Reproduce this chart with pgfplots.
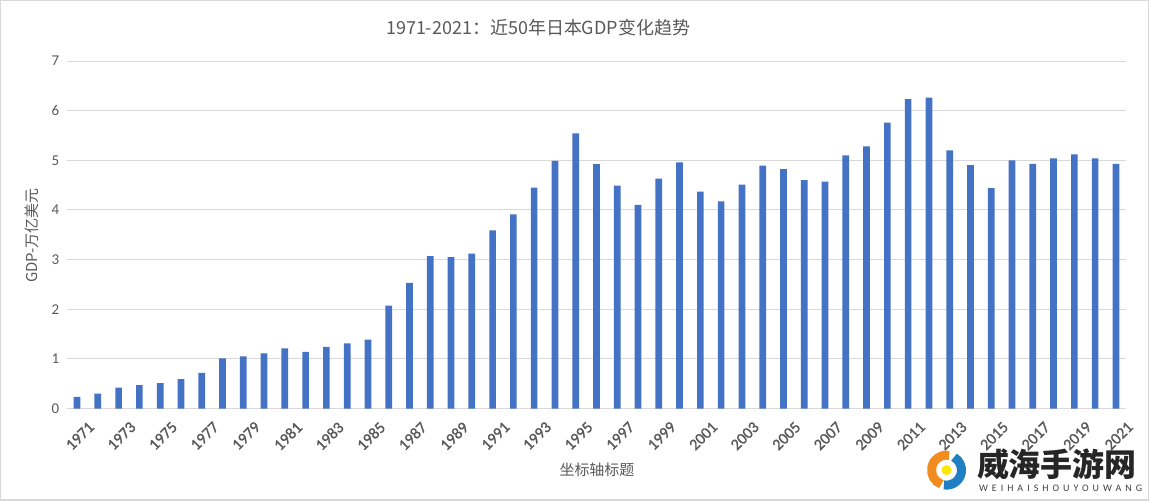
\documentclass[border=0pt]{standalone}
\usepackage{pgfplots}
\pgfplotsset{compat=1.18}
\usepackage{fontspec}
\setmainfont{Noto Sans CJK SC}
\newfontfamily\numfont{Carlito}
\newfontfamily\numfontb{Carlito}[FakeBold=1.3]
\definecolor{barblue}{HTML}{4472C4}
\definecolor{txt}{HTML}{595959}
\definecolor{gridc}{HTML}{D9D9D9}
\definecolor{logoorange}{HTML}{F28C1E}
\definecolor{logoblue}{HTML}{1E7FC3}
\begin{document}
\begin{tikzpicture}[x=1pt,y=1pt]
\draw[fill=white, draw=gridc, line width=1.5pt] (0,0) rectangle (1149,500);
\begin{axis}[at={(66pt,91.7pt)}, anchor=south west, scale only axis,
  width=1061pt, height=348pt,
  xmin=1970.5, xmax=2021.5, ymin=0, ymax=7,
  xtick={1971,1973,...,2021}, ytick={0,1,...,7},
  ymajorgrids, grid style={draw=gridc, line width=0.9pt},
  axis line style={draw=none}, major tick length=0pt,
  xticklabel={\pgfmathtruncatemacro\yr{\tick}\yr},
  yticklabel={\pgfmathtruncatemacro\vv{\tick}\vv},
  xticklabel style={rotate=45, anchor=north east, font=\numfontb\fontsize{16}{16}\selectfont, text=txt, inner sep=0pt, yshift=-16pt, xshift=-1pt},
  yticklabel style={font=\numfont\fontsize{15}{15}\selectfont, text=txt, xshift=-4pt},
  clip=false]
\addplot[ybar, bar width=6.7pt, fill=barblue, draw=none] coordinates {
(1971,0.235) (1972,0.30) (1973,0.42) (1974,0.47) (1975,0.51) (1976,0.59) (1977,0.72)
(1978,1.01) (1979,1.05) (1980,1.11) (1981,1.21) (1982,1.14) (1983,1.24) (1984,1.31)
(1985,1.39) (1986,2.07) (1987,2.53) (1988,3.07) (1989,3.05) (1990,3.12) (1991,3.59)
(1992,3.91) (1993,4.45) (1994,4.99) (1995,5.54) (1996,4.92) (1997,4.49) (1998,4.10)
(1999,4.63) (2000,4.96) (2001,4.37) (2002,4.17) (2003,4.51) (2004,4.89) (2005,4.82)
(2006,4.60) (2007,4.57) (2008,5.10) (2009,5.28) (2010,5.76) (2011,6.23) (2012,6.26)
(2013,5.20) (2014,4.90) (2015,4.44) (2016,5.00) (2017,4.93) (2018,5.04) (2019,5.12)
(2020,5.04) (2021,4.93)
};
\end{axis}
\node[text=txt, font=\fontsize{18}{18}\selectfont] at (538,473) {1971-2021：近50年日本GDP变化趋势};
\node[text=txt, font=\fontsize{15}{15}\selectfont] at (597,30) {坐标轴标题};
\node[text=txt, font=\fontsize{15}{15}\selectfont, rotate=90] at (31,265) {GDP-万亿美元};
% watermark
\draw[logoorange, line width=9pt] (947,30) ++(80:15) arc[start angle=80, end angle=250, radius=15];
\draw[logoblue, line width=9pt] (947,30) ++(260:15) arc[start angle=260, end angle=420, radius=15];
\fill[yellow!90!orange] (947,30) circle (5);
\node[text=black!85, font=\fontsize{32}{32}\selectfont\bfseries, anchor=west] at (974,36) {威海手游网};
\node[text=black!75, font=\numfont\fontsize{10}{10}\selectfont\addfontfeatures{LetterSpace=40}, anchor=west] at (976,12) {WEIHAISHOUYOUWANG};
\end{tikzpicture}
\end{document}
